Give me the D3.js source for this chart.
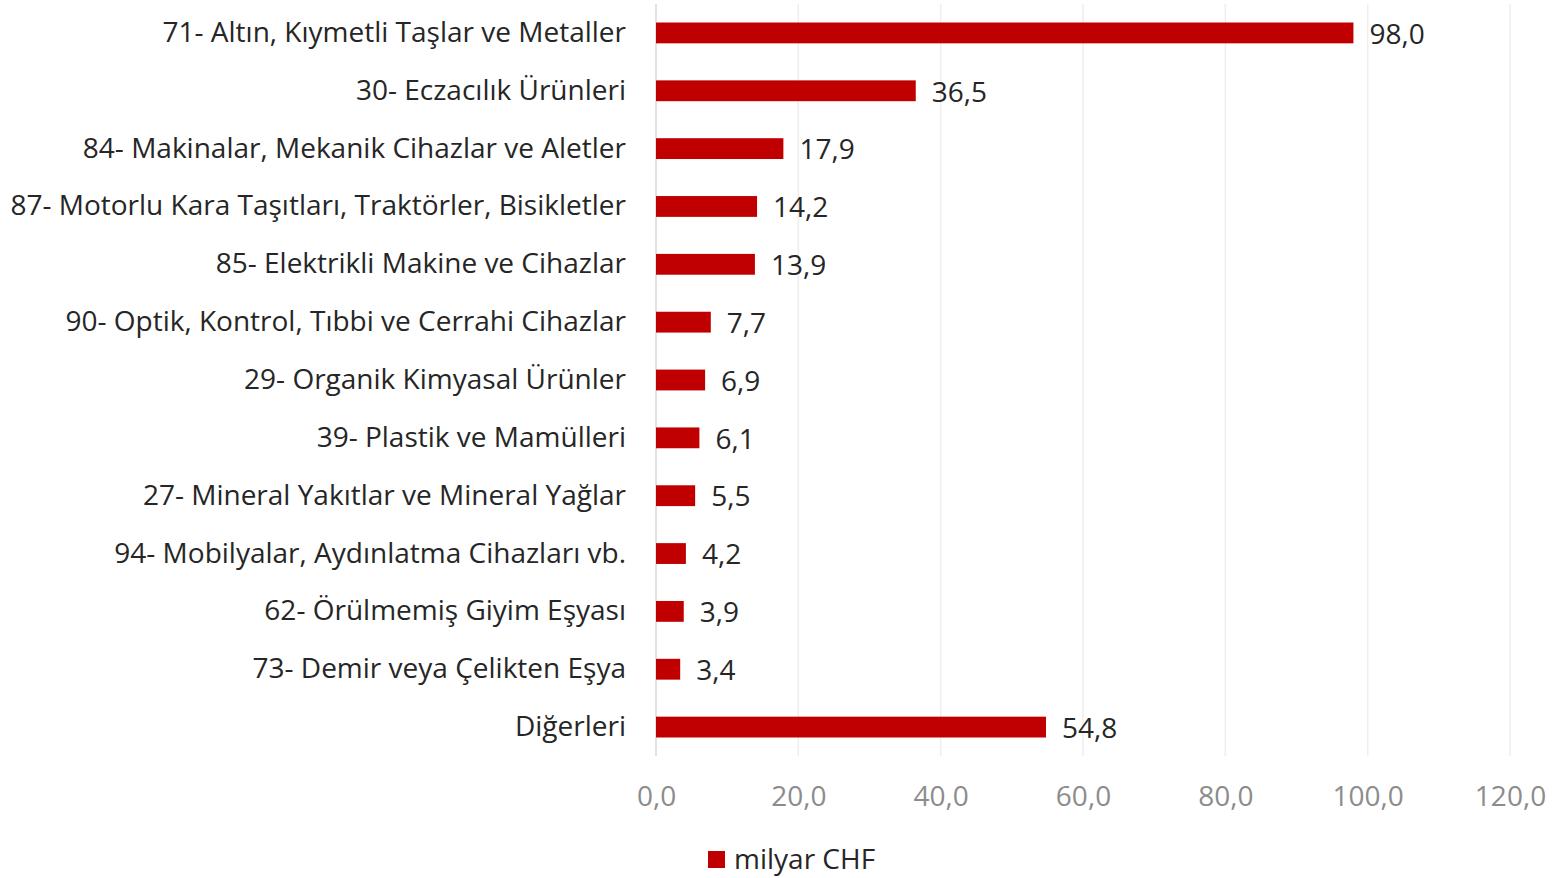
<!DOCTYPE html>
<html>
<head>
<meta charset="utf-8">
<script src="https://cdn.jsdelivr.net/npm/d3@7"></script>
<style>
  body { margin: 0; background: #fff; }
  svg { display: block; }
</style>
</head>
<body>
<svg></svg>
<script>
var categories = [
  "71- Altın, Kıymetli Taşlar ve Metaller",
  "30- Eczacılık Ürünleri",
  "84- Makinalar, Mekanik Cihazlar ve Aletler",
  "87- Motorlu Kara Taşıtları, Traktörler, Bisikletler",
  "85- Elektrikli Makine ve Cihazlar",
  "90- Optik, Kontrol, Tıbbi ve Cerrahi Cihazlar",
  "29- Organik Kimyasal Ürünler",
  "39- Plastik ve Mamülleri",
  "27- Mineral Yakıtlar ve Mineral Yağlar",
  "94- Mobilyalar, Aydınlatma Cihazları vb.",
  "62- Örülmemiş Giyim Eşyası",
  "73- Demir veya Çelikten Eşya",
  "Diğerleri"
];
var values = [98.0, 36.5, 17.9, 14.2, 13.9, 7.7, 6.9, 6.1, 5.5, 4.2, 3.9, 3.4, 54.8];
var xTicks = [0, 20, 40, 60, 80, 100, 120];
var seriesName = "milyar CHF";

var W = 1559, H = 878;
var font = "'Open Sans', sans-serif";
var fs = "28px";
var fmt = function (v) { return v.toFixed(1).replace(".", ","); };

var svg = d3.select("svg").attr("width", W).attr("height", H);

var x = d3.scaleLinear().domain([0, 120]).range([656, 1510]);
var y = d3.scaleBand().domain(categories).range([4, 756])
  .paddingInner(0.64).paddingOuter(0.32);

// gridlines
svg.append("g")
  .selectAll("line")
  .data(xTicks)
  .enter().append("line")
  .attr("x1", function (d) { return x(d); })
  .attr("x2", function (d) { return x(d); })
  .attr("y1", 4)
  .attr("y2", 756)
  .attr("stroke", function (d) { return d === 0 ? "#d9d9d9" : "#eeeeee"; })
  .attr("stroke-width", 1.5);

// bottom axis labels
var xAxis = svg.append("g")
  .attr("transform", "translate(0,756)")
  .call(d3.axisBottom(x).tickValues(xTicks).tickFormat(fmt).tickSize(0).tickPadding(30));
xAxis.select(".domain").remove();
xAxis.selectAll("text")
  .attr("font-family", font)
  .attr("font-size", fs)
  .attr("fill", "#8c8c8c");

// category labels
var yAxis = svg.append("g")
  .attr("transform", "translate(626,0)")
  .call(d3.axisLeft(y).tickSize(0).tickPadding(0));
yAxis.select(".domain").remove();
yAxis.selectAll("text")
  .attr("font-family", font)
  .attr("font-size", fs)
  .attr("fill", "#262626");

// bars
svg.append("g")
  .selectAll("rect")
  .data(values)
  .enter().append("rect")
  .attr("x", x(0))
  .attr("y", function (d, i) { return y(categories[i]); })
  .attr("width", function (d) { return x(d) - x(0); })
  .attr("height", y.bandwidth())
  .attr("fill", "#c00000");

// value labels
svg.append("g")
  .selectAll("text")
  .data(values)
  .enter().append("text")
  .attr("x", function (d) { return x(d) + 16; })
  .attr("y", function (d, i) { return y(categories[i]) + y.bandwidth() / 2 + 1; })
  .attr("dy", "0.35em")
  .attr("font-family", font)
  .attr("font-size", fs)
  .attr("fill", "#262626")
  .text(fmt);

// legend
var legend = svg.append("g");
legend.append("rect")
  .attr("x", 708).attr("y", 851)
  .attr("width", 17).attr("height", 17)
  .attr("fill", "#c00000");
legend.append("text")
  .attr("x", 734).attr("y", 859)
  .attr("dy", "0.35em")
  .attr("font-family", font)
  .attr("font-size", fs)
  .attr("fill", "#262626")
  .text(seriesName);
</script>
</body>
</html>
